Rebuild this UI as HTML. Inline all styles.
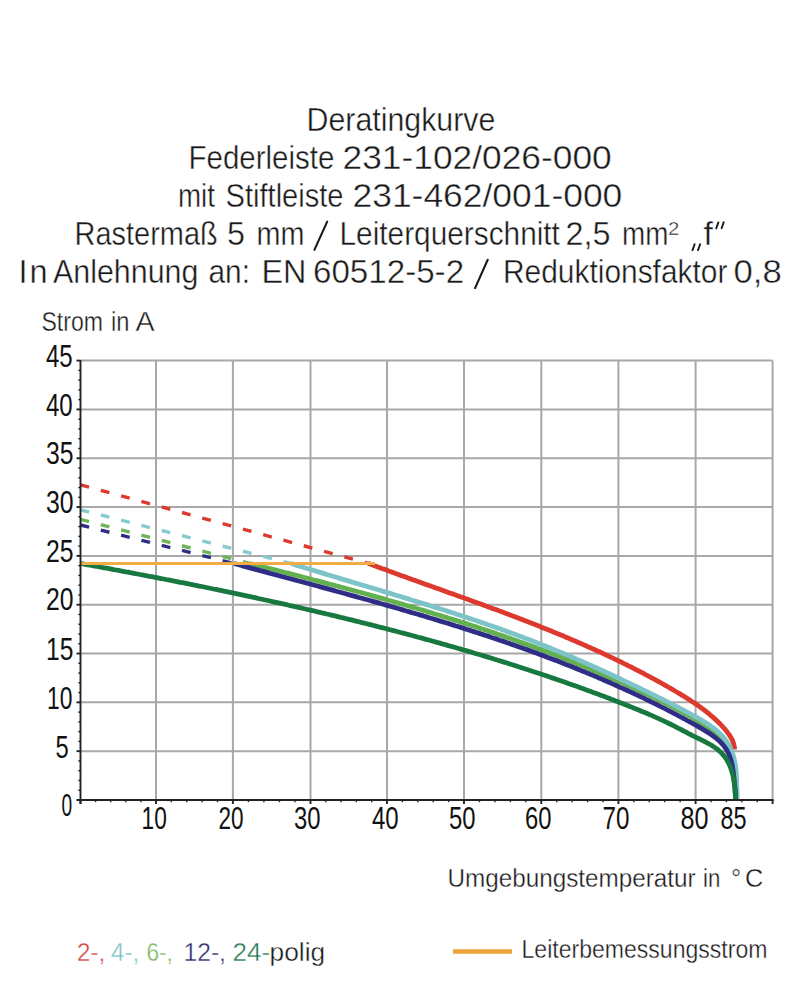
<!DOCTYPE html><html><head><meta charset="utf-8"><style>html,body{margin:0;padding:0;background:#fff;overflow:hidden;}svg{display:block;}</style></head><body><svg width="801" height="1000" viewBox="0 0 801 1000">
<rect width="801" height="1000" fill="#fff"/>
<g stroke="#a8a8a8" stroke-width="2"><line x1="80.5" y1="751.18" x2="772.6" y2="751.18"/><line x1="80.5" y1="702.36" x2="772.6" y2="702.36"/><line x1="80.5" y1="653.53" x2="772.6" y2="653.53"/><line x1="80.5" y1="604.71" x2="772.6" y2="604.71"/><line x1="80.5" y1="555.89" x2="772.6" y2="555.89"/><line x1="80.5" y1="507.07" x2="772.6" y2="507.07"/><line x1="80.5" y1="458.24" x2="772.6" y2="458.24"/><line x1="80.5" y1="409.42" x2="772.6" y2="409.42"/><line x1="80.5" y1="360.60" x2="772.6" y2="360.60"/><line x1="156.0" y1="360.6" x2="156.0" y2="800"/><line x1="232.9" y1="360.6" x2="232.9" y2="800"/><line x1="310.5" y1="360.6" x2="310.5" y2="800"/><line x1="387.0" y1="360.6" x2="387.0" y2="800"/><line x1="464.0" y1="360.6" x2="464.0" y2="800"/><line x1="541.3" y1="360.6" x2="541.3" y2="800"/><line x1="618.4" y1="360.6" x2="618.4" y2="800"/><line x1="695.6" y1="360.6" x2="695.6" y2="800"/><line x1="772.6" y1="360.6" x2="772.6" y2="800"/></g>
<line x1="80.5" y1="484.8" x2="368" y2="563.3" stroke="#dc3a2e" stroke-width="3.4" stroke-dasharray="8.91 12.13"/>
<line x1="80.5" y1="519.3" x2="250" y2="563.5" stroke="#6db558" stroke-width="3.4" stroke-dasharray="8.89 12.09"/>
<line x1="80.5" y1="509.8" x2="291" y2="563.5" stroke="#88cbcf" stroke-width="3.4" stroke-dasharray="8.88 12.07"/>
<line x1="80.5" y1="525.0" x2="234" y2="563.5" stroke="#2f2d86" stroke-width="3.4" stroke-dasharray="8.87 12.06"/>
<path d="M368.0,563.3 L369.3,563.8 L370.6,564.3 L371.9,564.8 L373.3,565.3 L374.6,565.8 L375.9,566.2 L377.2,566.7 L378.5,567.2 L379.8,567.7 L381.1,568.2 L382.5,568.7 L383.8,569.1 L385.1,569.6 L386.4,570.1 L387.7,570.6 L389.0,571.1 L390.4,571.6 L391.7,572.0 L393.0,572.5 L394.3,573.0 L395.6,573.5 L397.0,573.9 L398.3,574.4 L399.6,574.9 L400.9,575.4 L402.2,575.9 L403.5,576.3 L404.9,576.8 L406.2,577.3 L407.5,577.8 L408.8,578.2 L410.1,578.7 L411.5,579.2 L412.8,579.7 L414.1,580.1 L415.4,580.6 L416.7,581.1 L418.1,581.5 L419.4,582.0 L420.7,582.5 L422.0,583.0 L423.3,583.4 L424.7,583.9 L426.0,584.4 L427.3,584.9 L428.6,585.3 L429.9,585.8 L431.3,586.3 L432.6,586.7 L433.9,587.2 L435.2,587.7 L436.5,588.2 L437.9,588.6 L439.2,589.1 L440.5,589.6 L441.8,590.0 L443.1,590.5 L444.5,591.0 L445.8,591.5 L447.1,591.9 L448.4,592.4 L449.7,592.9 L451.1,593.4 L452.4,593.8 L453.7,594.3 L455.0,594.8 L456.3,595.2 L457.6,595.7 L459.0,596.2 L460.3,596.7 L461.6,597.1 L462.9,597.6 L464.2,598.1 L465.6,598.6 L466.9,599.0 L468.2,599.5 L469.5,600.0 L470.8,600.5 L472.1,601.0 L473.5,601.4 L474.8,601.9 L476.1,602.4 L477.4,602.9 L478.7,603.3 L480.0,603.8 L481.4,604.3 L482.7,604.8 L484.0,605.3 L485.3,605.8 L486.6,606.2 L487.9,606.7 L489.2,607.2 L490.6,607.7 L491.9,608.2 L493.2,608.7 L494.5,609.1 L495.8,609.6 L497.1,610.1 L498.4,610.6 L499.7,611.1 L501.1,611.6 L502.4,612.1 L503.7,612.6 L505.0,613.1 L506.3,613.5 L507.6,614.0 L508.9,614.5 L510.2,615.0 L511.5,615.5 L512.9,616.0 L514.2,616.5 L515.5,617.0 L516.8,617.5 L518.1,618.0 L519.4,618.5 L520.7,619.0 L522.0,619.5 L523.3,620.0 L524.6,620.5 L525.9,621.0 L527.2,621.5 L528.5,622.0 L529.8,622.5 L531.1,623.1 L532.4,623.6 L533.7,624.1 L535.0,624.6 L536.3,625.1 L537.6,625.6 L538.9,626.1 L540.2,626.6 L541.5,627.2 L542.8,627.7 L544.1,628.2 L545.4,628.7 L546.7,629.2 L548.0,629.8 L549.3,630.3 L550.6,630.8 L551.9,631.3 L553.2,631.9 L554.5,632.4 L555.8,632.9 L557.1,633.5 L558.4,634.0 L559.7,634.5 L561.0,635.1 L562.3,635.6 L563.6,636.1 L564.8,636.7 L566.1,637.2 L567.4,637.8 L568.7,638.3 L570.0,638.9 L571.3,639.4 L572.6,640.0 L573.9,640.5 L575.1,641.1 L576.4,641.6 L577.7,642.2 L579.0,642.7 L580.3,643.3 L581.6,643.8 L582.8,644.4 L584.1,645.0 L585.4,645.5 L586.7,646.1 L588.0,646.7 L589.2,647.2 L590.5,647.8 L591.8,648.4 L593.1,648.9 L594.3,649.5 L595.6,650.1 L596.9,650.7 L598.2,651.3 L599.4,651.8 L600.7,652.4 L602.0,653.0 L603.3,653.6 L604.5,654.2 L605.8,654.8 L607.1,655.4 L608.3,656.0 L609.6,656.6 L610.9,657.2 L612.1,657.8 L613.4,658.4 L614.6,659.0 L615.9,659.6 L617.2,660.2 L618.4,660.8 L619.7,661.4 L621.0,662.0 L622.2,662.6 L623.5,663.3 L624.7,663.9 L626.0,664.5 L627.2,665.1 L628.5,665.8 L629.7,666.4 L631.0,667.0 L632.2,667.6 L633.5,668.3 L634.7,668.9 L636.0,669.6 L637.2,670.2 L638.5,670.8 L639.7,671.5 L641.0,672.1 L642.2,672.8 L643.5,673.4 L644.7,674.1 L646.0,674.8 L647.2,675.4 L648.4,676.1 L649.7,676.7 L650.9,677.4 L652.2,678.1 L653.4,678.7 L654.6,679.4 L655.9,680.1 L657.1,680.8 L658.3,681.5 L659.6,682.1 L660.8,682.8 L662.0,683.5 L663.2,684.2 L664.5,684.9 L665.7,685.6 L666.9,686.3 L668.1,687.0 L669.4,687.7 L670.6,688.4 L671.8,689.1 L673.0,689.8 L674.2,690.5 L675.5,691.3 L676.7,692.0 L677.9,692.7 L679.1,693.4 L680.3,694.1 L681.5,694.9 L682.7,695.6 L683.9,696.3 L685.1,697.1 L686.3,697.8 L687.5,698.6 L688.7,699.3 L689.9,700.1 L691.1,700.9 L692.3,701.7 L693.5,702.4 L694.6,703.2 L695.8,704.0 L697.0,704.8 L698.1,705.6 L699.3,706.4 L700.4,707.2 L701.5,708.1 L702.7,708.9 L703.8,709.7 L704.9,710.6 L706.0,711.4 L707.1,712.3 L708.2,713.2 L709.3,714.1 L710.3,715.0 L711.4,715.9 L712.5,716.8 L713.5,717.7 L714.5,718.6 L715.6,719.6 L716.6,720.5 L717.6,721.5 L718.6,722.5 L719.6,723.4 L720.5,724.4 L721.5,725.4 L722.4,726.5 L723.4,727.5 L724.3,728.5 L725.2,729.6 L726.1,730.7 L727.0,731.8 L727.8,732.9 L728.7,734.0 L729.4,735.1 L730.2,736.3 L730.9,737.5 L731.6,738.7 L732.2,739.9 L732.7,741.2 L733.2,742.5 L733.6,743.8 L734.0,745.2 L734.3,746.6 L734.5,748.0 L734.6,749.5" fill="none" stroke="#dc3a2e" stroke-width="4.8" stroke-linejoin="round"/>
<path d="M250.0,563.5 L251.9,564.0 L253.7,564.4 L255.6,564.9 L257.4,565.4 L259.3,565.8 L261.1,566.3 L263.0,566.8 L264.8,567.3 L266.7,567.7 L268.5,568.2 L270.4,568.7 L272.2,569.2 L274.1,569.6 L275.9,570.1 L277.8,570.6 L279.6,571.0 L281.5,571.5 L283.3,572.0 L285.2,572.5 L287.0,572.9 L288.9,573.4 L290.7,573.9 L292.6,574.4 L294.4,574.9 L296.3,575.3 L298.1,575.8 L300.0,576.3 L301.8,576.8 L303.7,577.3 L305.5,577.7 L307.4,578.2 L309.2,578.7 L311.1,579.2 L312.9,579.7 L314.8,580.2 L316.6,580.6 L318.5,581.1 L320.3,581.6 L322.2,582.1 L324.0,582.6 L325.9,583.1 L327.7,583.6 L329.5,584.1 L331.4,584.5 L333.2,585.0 L335.1,585.5 L336.9,586.0 L338.8,586.5 L340.6,587.0 L342.5,587.5 L344.3,588.0 L346.1,588.5 L348.0,589.0 L349.8,589.5 L351.7,590.0 L353.5,590.5 L355.3,591.0 L357.2,591.5 L359.0,592.0 L360.9,592.5 L362.7,593.0 L364.5,593.5 L366.4,594.0 L368.2,594.5 L370.1,595.0 L371.9,595.6 L373.7,596.1 L375.6,596.6 L377.4,597.1 L379.2,597.6 L381.1,598.1 L382.9,598.6 L384.8,599.2 L386.6,599.7 L388.4,600.2 L390.3,600.7 L392.1,601.3 L393.9,601.8 L395.8,602.3 L397.6,602.8 L399.4,603.4 L401.3,603.9 L403.1,604.4 L404.9,605.0 L406.7,605.5 L408.6,606.0 L410.4,606.6 L412.2,607.1 L414.1,607.6 L415.9,608.2 L417.7,608.7 L419.6,609.3 L421.4,609.8 L423.2,610.4 L425.0,610.9 L426.9,611.5 L428.7,612.0 L430.5,612.6 L432.3,613.1 L434.2,613.7 L436.0,614.2 L437.8,614.8 L439.6,615.3 L441.5,615.9 L443.3,616.5 L445.1,617.0 L446.9,617.6 L448.7,618.2 L450.6,618.7 L452.4,619.3 L454.2,619.9 L456.0,620.4 L457.8,621.0 L459.7,621.6 L461.5,622.2 L463.3,622.8 L465.1,623.3 L466.9,623.9 L468.7,624.5 L470.5,625.1 L472.4,625.7 L474.2,626.3 L476.0,626.9 L477.8,627.5 L479.6,628.1 L481.4,628.7 L483.2,629.3 L485.0,629.9 L486.9,630.5 L488.7,631.1 L490.5,631.7 L492.3,632.3 L494.1,632.9 L495.9,633.5 L497.7,634.2 L499.5,634.8 L501.3,635.4 L503.1,636.0 L504.9,636.6 L506.7,637.3 L508.5,637.9 L510.3,638.5 L512.1,639.2 L513.9,639.8 L515.7,640.4 L517.5,641.1 L519.4,641.7 L521.1,642.4 L522.9,643.0 L524.7,643.7 L526.5,644.3 L528.3,645.0 L530.1,645.6 L531.9,646.3 L533.7,646.9 L535.5,647.6 L537.3,648.3 L539.1,648.9 L540.9,649.6 L542.7,650.3 L544.5,650.9 L546.3,651.6 L548.1,652.3 L549.9,653.0 L551.7,653.7 L553.4,654.3 L555.2,655.0 L557.0,655.7 L558.8,656.4 L560.6,657.1 L562.4,657.8 L564.2,658.5 L565.9,659.2 L567.7,659.9 L569.5,660.6 L571.3,661.3 L573.1,662.0 L574.8,662.7 L576.6,663.5 L578.4,664.2 L580.2,664.9 L581.9,665.6 L583.7,666.3 L585.5,667.1 L587.2,667.8 L589.0,668.5 L590.8,669.3 L592.5,670.0 L594.3,670.7 L596.1,671.5 L597.8,672.2 L599.6,673.0 L601.3,673.7 L603.1,674.5 L604.8,675.2 L606.6,676.0 L608.3,676.8 L610.1,677.5 L611.8,678.3 L613.6,679.0 L615.3,679.8 L617.1,680.6 L618.8,681.4 L620.6,682.1 L622.3,682.9 L624.0,683.7 L625.8,684.5 L627.5,685.3 L629.2,686.1 L631.0,686.9 L632.7,687.7 L634.4,688.4 L636.1,689.2 L637.8,690.0 L639.6,690.9 L641.3,691.7 L643.0,692.5 L644.7,693.3 L646.4,694.1 L648.1,694.9 L649.8,695.7 L651.5,696.6 L653.2,697.4 L654.9,698.2 L656.6,699.0 L658.3,699.9 L660.0,700.7 L661.7,701.5 L663.4,702.4 L665.1,703.2 L666.7,704.1 L668.4,704.9 L670.1,705.8 L671.8,706.6 L673.4,707.5 L675.1,708.4 L676.8,709.3 L678.5,710.1 L680.1,711.0 L681.8,711.9 L683.5,712.8 L685.2,713.8 L686.8,714.7 L688.5,715.6 L690.2,716.5 L691.9,717.5 L693.5,718.4 L695.2,719.4 L696.9,720.4 L698.6,721.4 L700.2,722.4 L701.9,723.4 L703.5,724.4 L705.2,725.5 L706.8,726.6 L708.4,727.7 L710.0,728.8 L711.6,729.9 L713.1,731.1 L714.6,732.3 L716.1,733.5 L717.5,734.8 L718.9,736.1 L720.3,737.4 L721.6,738.8 L722.9,740.2 L724.1,741.6 L725.3,743.1 L726.4,744.7 L727.4,746.2 L728.4,747.8 L729.4,749.5 L730.3,751.1 L731.1,752.9 L731.8,754.6 L732.5,756.4 L733.0,758.2 L733.6,760.0 L734.0,761.8 L734.4,763.7 L734.7,765.6 L735.0,767.5 L735.3,769.4 L735.5,771.3 L735.6,773.3 L735.8,775.2 L735.9,777.1 L736.1,779.1 L736.2,781.0 L736.3,782.9 L736.4,784.8 L736.5,786.7 L736.6,788.6 L736.7,790.5 L736.8,792.4 L736.8,794.3 L736.8,796.2 L736.8,798.1 L736.8,800.0" fill="none" stroke="#62b04e" stroke-width="4.8" stroke-linejoin="round"/>
<path d="M291.0,563.5 L292.7,564.0 L294.4,564.6 L296.1,565.1 L297.8,565.6 L299.5,566.1 L301.2,566.7 L303.0,567.2 L304.7,567.7 L306.4,568.2 L308.1,568.8 L309.8,569.3 L311.5,569.8 L313.2,570.3 L314.9,570.8 L316.6,571.4 L318.3,571.9 L320.0,572.4 L321.8,572.9 L323.5,573.4 L325.2,573.9 L326.9,574.5 L328.6,575.0 L330.3,575.5 L332.0,576.0 L333.7,576.5 L335.4,577.0 L337.2,577.5 L338.9,578.1 L340.6,578.6 L342.3,579.1 L344.0,579.6 L345.7,580.1 L347.4,580.6 L349.1,581.1 L350.8,581.6 L352.6,582.2 L354.3,582.7 L356.0,583.2 L357.7,583.7 L359.4,584.2 L361.1,584.7 L362.8,585.2 L364.5,585.7 L366.2,586.2 L368.0,586.8 L369.7,587.3 L371.4,587.8 L373.1,588.3 L374.8,588.8 L376.5,589.3 L378.2,589.8 L379.9,590.3 L381.6,590.8 L383.3,591.4 L385.1,591.9 L386.8,592.4 L388.5,592.9 L390.2,593.4 L391.9,593.9 L393.6,594.5 L395.3,595.0 L397.0,595.5 L398.7,596.0 L400.4,596.5 L402.1,597.0 L403.9,597.6 L405.6,598.1 L407.3,598.6 L409.0,599.1 L410.7,599.7 L412.4,600.2 L414.1,600.7 L415.8,601.2 L417.5,601.8 L419.2,602.3 L420.9,602.8 L422.6,603.3 L424.3,603.9 L426.0,604.4 L427.7,604.9 L429.4,605.5 L431.1,606.0 L432.8,606.5 L434.6,607.1 L436.3,607.6 L438.0,608.1 L439.7,608.7 L441.4,609.2 L443.1,609.8 L444.8,610.3 L446.5,610.9 L448.2,611.4 L449.9,611.9 L451.6,612.5 L453.3,613.0 L455.0,613.6 L456.6,614.2 L458.3,614.7 L460.0,615.3 L461.7,615.8 L463.4,616.4 L465.1,616.9 L466.8,617.5 L468.5,618.1 L470.2,618.6 L471.9,619.2 L473.6,619.8 L475.3,620.3 L477.0,620.9 L478.7,621.5 L480.4,622.1 L482.0,622.6 L483.7,623.2 L485.4,623.8 L487.1,624.4 L488.8,625.0 L490.5,625.6 L492.2,626.1 L493.9,626.7 L495.5,627.3 L497.2,627.9 L498.9,628.5 L500.6,629.1 L502.3,629.7 L504.0,630.3 L505.6,630.9 L507.3,631.5 L509.0,632.2 L510.7,632.8 L512.3,633.4 L514.0,634.0 L515.7,634.6 L517.4,635.2 L519.1,635.9 L520.7,636.5 L522.4,637.1 L524.1,637.8 L525.7,638.4 L527.4,639.0 L529.1,639.7 L530.8,640.3 L532.4,641.0 L534.1,641.6 L535.8,642.3 L537.4,642.9 L539.1,643.6 L540.8,644.2 L542.4,644.9 L544.1,645.5 L545.7,646.2 L547.4,646.9 L549.1,647.5 L550.7,648.2 L552.4,648.9 L554.0,649.6 L555.7,650.3 L557.4,650.9 L559.0,651.6 L560.7,652.3 L562.3,653.0 L564.0,653.7 L565.6,654.4 L567.3,655.1 L568.9,655.8 L570.6,656.5 L572.2,657.2 L573.9,657.9 L575.5,658.6 L577.1,659.3 L578.8,660.1 L580.4,660.8 L582.1,661.5 L583.7,662.2 L585.4,662.9 L587.0,663.7 L588.6,664.4 L590.3,665.1 L591.9,665.8 L593.5,666.6 L595.2,667.3 L596.8,668.0 L598.4,668.8 L600.0,669.5 L601.7,670.3 L603.3,671.0 L604.9,671.8 L606.5,672.5 L608.2,673.3 L609.8,674.0 L611.4,674.8 L613.0,675.5 L614.6,676.3 L616.3,677.0 L617.9,677.8 L619.5,678.5 L621.1,679.3 L622.7,680.1 L624.3,680.8 L625.9,681.6 L627.5,682.3 L629.1,683.1 L630.7,683.9 L632.3,684.7 L633.9,685.4 L635.5,686.2 L637.1,687.0 L638.7,687.7 L640.3,688.5 L641.9,689.3 L643.5,690.1 L645.1,690.8 L646.7,691.6 L648.3,692.4 L649.9,693.2 L651.5,694.0 L653.0,694.8 L654.6,695.5 L656.2,696.3 L657.8,697.1 L659.4,697.9 L660.9,698.7 L662.5,699.5 L664.1,700.3 L665.7,701.0 L667.2,701.8 L668.8,702.6 L670.4,703.4 L671.9,704.2 L673.5,705.0 L675.1,705.8 L676.6,706.7 L678.2,707.5 L679.8,708.3 L681.4,709.1 L682.9,709.9 L684.5,710.8 L686.1,711.6 L687.7,712.5 L689.3,713.3 L690.8,714.2 L692.4,715.1 L694.0,715.9 L695.6,716.8 L697.2,717.7 L698.8,718.6 L700.4,719.5 L702.0,720.4 L703.5,721.4 L705.1,722.3 L706.7,723.3 L708.2,724.3 L709.7,725.3 L711.2,726.4 L712.7,727.4 L714.1,728.5 L715.5,729.6 L716.9,730.8 L718.2,732.0 L719.6,733.2 L720.8,734.4 L722.0,735.7 L723.2,737.0 L724.3,738.4 L725.4,739.8 L726.4,741.2 L727.4,742.7 L728.3,744.2 L729.2,745.7 L730.0,747.3 L730.8,748.9 L731.5,750.5 L732.1,752.1 L732.7,753.8 L733.2,755.5 L733.7,757.2 L734.2,758.9 L734.5,760.7 L734.9,762.4 L735.2,764.2 L735.5,766.0 L735.7,767.8 L735.9,769.6 L736.0,771.4 L736.2,773.2 L736.3,775.0 L736.4,776.8 L736.5,778.6 L736.6,780.4 L736.6,782.2 L736.7,784.0 L736.7,785.8 L736.8,787.6 L736.8,789.4 L736.8,791.2 L736.9,793.0 L736.9,794.7 L736.9,796.5 L737.0,798.2 L737.0,800.0" fill="none" stroke="#7cc4c7" stroke-width="4.8" stroke-linejoin="round"/>
<path d="M234.0,563.5 L235.9,564.0 L237.7,564.5 L239.6,565.0 L241.5,565.5 L243.4,566.1 L245.2,566.6 L247.1,567.1 L249.0,567.6 L250.9,568.1 L252.7,568.6 L254.6,569.1 L256.5,569.6 L258.4,570.1 L260.2,570.6 L262.1,571.1 L264.0,571.6 L265.9,572.1 L267.8,572.6 L269.6,573.2 L271.5,573.7 L273.4,574.2 L275.3,574.7 L277.1,575.2 L279.0,575.7 L280.9,576.2 L282.8,576.7 L284.7,577.2 L286.5,577.7 L288.4,578.2 L290.3,578.7 L292.2,579.2 L294.1,579.7 L295.9,580.2 L297.8,580.8 L299.7,581.3 L301.6,581.8 L303.5,582.3 L305.3,582.8 L307.2,583.3 L309.1,583.8 L311.0,584.3 L312.9,584.8 L314.7,585.3 L316.6,585.8 L318.5,586.3 L320.4,586.9 L322.3,587.4 L324.1,587.9 L326.0,588.4 L327.9,588.9 L329.8,589.4 L331.7,589.9 L333.5,590.4 L335.4,591.0 L337.3,591.5 L339.2,592.0 L341.1,592.5 L342.9,593.0 L344.8,593.5 L346.7,594.0 L348.6,594.6 L350.5,595.1 L352.3,595.6 L354.2,596.1 L356.1,596.6 L358.0,597.2 L359.8,597.7 L361.7,598.2 L363.6,598.7 L365.5,599.3 L367.4,599.8 L369.2,600.3 L371.1,600.8 L373.0,601.4 L374.9,601.9 L376.7,602.4 L378.6,602.9 L380.5,603.5 L382.4,604.0 L384.2,604.5 L386.1,605.1 L388.0,605.6 L389.9,606.1 L391.7,606.7 L393.6,607.2 L395.5,607.8 L397.4,608.3 L399.2,608.8 L401.1,609.4 L403.0,609.9 L404.9,610.5 L406.7,611.0 L408.6,611.6 L410.5,612.1 L412.3,612.7 L414.2,613.2 L416.1,613.8 L417.9,614.3 L419.8,614.9 L421.7,615.4 L423.6,616.0 L425.4,616.5 L427.3,617.1 L429.2,617.7 L431.0,618.2 L432.9,618.8 L434.7,619.4 L436.6,619.9 L438.5,620.5 L440.3,621.1 L442.2,621.6 L444.1,622.2 L445.9,622.8 L447.8,623.3 L449.6,623.9 L451.5,624.5 L453.4,625.1 L455.2,625.7 L457.1,626.2 L458.9,626.8 L460.8,627.4 L462.7,628.0 L464.5,628.6 L466.4,629.2 L468.2,629.8 L470.1,630.4 L471.9,631.0 L473.8,631.6 L475.6,632.2 L477.5,632.8 L479.3,633.4 L481.2,634.0 L483.0,634.6 L484.9,635.2 L486.7,635.8 L488.6,636.4 L490.4,637.0 L492.3,637.7 L494.1,638.3 L496.0,638.9 L497.8,639.5 L499.6,640.2 L501.5,640.8 L503.3,641.4 L505.2,642.0 L507.0,642.7 L508.8,643.3 L510.7,644.0 L512.5,644.6 L514.4,645.2 L516.2,645.9 L518.0,646.5 L519.9,647.2 L521.7,647.8 L523.5,648.5 L525.4,649.1 L527.2,649.8 L529.0,650.4 L530.8,651.1 L532.7,651.8 L534.5,652.4 L536.3,653.1 L538.1,653.8 L540.0,654.5 L541.8,655.1 L543.6,655.8 L545.4,656.5 L547.3,657.2 L549.1,657.9 L550.9,658.6 L552.7,659.2 L554.5,659.9 L556.3,660.6 L558.1,661.3 L560.0,662.0 L561.8,662.7 L563.6,663.4 L565.4,664.2 L567.2,664.9 L569.0,665.6 L570.8,666.3 L572.6,667.0 L574.4,667.7 L576.2,668.5 L578.0,669.2 L579.8,669.9 L581.6,670.7 L583.4,671.4 L585.2,672.1 L587.0,672.9 L588.8,673.6 L590.6,674.4 L592.4,675.1 L594.2,675.9 L596.0,676.6 L597.8,677.4 L599.6,678.2 L601.3,678.9 L603.1,679.7 L604.9,680.5 L606.7,681.2 L608.5,682.0 L610.3,682.8 L612.0,683.6 L613.8,684.4 L615.6,685.2 L617.4,686.0 L619.1,686.8 L620.9,687.6 L622.7,688.4 L624.5,689.2 L626.2,690.0 L628.0,690.8 L629.8,691.6 L631.5,692.4 L633.3,693.2 L635.0,694.1 L636.8,694.9 L638.6,695.7 L640.3,696.6 L642.1,697.4 L643.8,698.2 L645.6,699.1 L647.3,699.9 L649.1,700.8 L650.8,701.7 L652.6,702.5 L654.3,703.4 L656.1,704.2 L657.8,705.1 L659.6,706.0 L661.3,706.9 L663.0,707.7 L664.8,708.6 L666.5,709.5 L668.2,710.4 L670.0,711.3 L671.7,712.2 L673.4,713.1 L675.2,714.0 L676.9,714.9 L678.6,715.8 L680.3,716.8 L682.1,717.7 L683.8,718.6 L685.5,719.5 L687.2,720.5 L688.9,721.4 L690.6,722.3 L692.3,723.3 L694.1,724.2 L695.8,725.2 L697.5,726.1 L699.2,727.1 L700.9,728.1 L702.6,729.1 L704.2,730.1 L705.9,731.1 L707.5,732.1 L709.2,733.2 L710.8,734.3 L712.4,735.4 L713.9,736.6 L715.5,737.7 L717.0,739.0 L718.4,740.2 L719.9,741.5 L721.2,742.9 L722.5,744.3 L723.8,745.8 L724.9,747.3 L726.0,748.9 L726.9,750.5 L727.8,752.2 L728.7,753.9 L729.4,755.7 L730.1,757.5 L730.7,759.3 L731.2,761.2 L731.7,763.1 L732.1,765.0 L732.5,767.0 L732.8,768.9 L733.1,770.9 L733.4,772.8 L733.6,774.8 L733.8,776.8 L734.0,778.7 L734.2,780.7 L734.4,782.6 L734.6,784.6 L734.8,786.5 L735.0,788.4 L735.1,790.4 L735.3,792.3 L735.4,794.2 L735.6,796.1 L735.7,798.1 L735.8,800.0" fill="none" stroke="#2f2d86" stroke-width="4.8" stroke-linejoin="round"/>
<path d="M80.5,563.5 L82.9,563.9 L85.3,564.4 L87.6,564.8 L90.0,565.2 L92.4,565.6 L94.8,566.1 L97.2,566.5 L99.5,566.9 L101.9,567.4 L104.3,567.8 L106.7,568.2 L109.1,568.7 L111.4,569.1 L113.8,569.6 L116.2,570.0 L118.6,570.4 L120.9,570.9 L123.3,571.3 L125.7,571.8 L128.1,572.2 L130.5,572.7 L132.8,573.1 L135.2,573.6 L137.6,574.0 L140.0,574.5 L142.3,574.9 L144.7,575.4 L147.1,575.8 L149.5,576.3 L151.8,576.7 L154.2,577.2 L156.6,577.6 L158.9,578.1 L161.3,578.6 L163.7,579.0 L166.1,579.5 L168.4,579.9 L170.8,580.4 L173.2,580.9 L175.6,581.3 L177.9,581.8 L180.3,582.3 L182.7,582.7 L185.0,583.2 L187.4,583.7 L189.8,584.2 L192.1,584.6 L194.5,585.1 L196.9,585.6 L199.3,586.1 L201.6,586.5 L204.0,587.0 L206.4,587.5 L208.7,588.0 L211.1,588.5 L213.5,589.0 L215.8,589.4 L218.2,589.9 L220.6,590.4 L222.9,590.9 L225.3,591.4 L227.7,591.9 L230.0,592.4 L232.4,592.9 L234.8,593.4 L237.1,593.9 L239.5,594.4 L241.8,594.9 L244.2,595.4 L246.6,595.9 L248.9,596.4 L251.3,596.9 L253.7,597.4 L256.0,597.9 L258.4,598.5 L260.7,599.0 L263.1,599.5 L265.5,600.0 L267.8,600.5 L270.2,601.0 L272.5,601.6 L274.9,602.1 L277.3,602.6 L279.6,603.1 L282.0,603.7 L284.3,604.2 L286.7,604.7 L289.0,605.3 L291.4,605.8 L293.8,606.3 L296.1,606.9 L298.5,607.4 L300.8,607.9 L303.2,608.5 L305.5,609.0 L307.9,609.6 L310.2,610.1 L312.6,610.7 L314.9,611.2 L317.3,611.8 L319.7,612.3 L322.0,612.9 L324.4,613.4 L326.7,614.0 L329.1,614.5 L331.4,615.1 L333.8,615.7 L336.1,616.2 L338.5,616.8 L340.8,617.4 L343.2,617.9 L345.5,618.5 L347.8,619.1 L350.2,619.7 L352.5,620.2 L354.9,620.8 L357.2,621.4 L359.6,622.0 L361.9,622.6 L364.3,623.1 L366.6,623.7 L369.0,624.3 L371.3,624.9 L373.6,625.5 L376.0,626.1 L378.3,626.7 L380.7,627.3 L383.0,627.9 L385.4,628.5 L387.7,629.1 L390.0,629.7 L392.4,630.3 L394.7,630.9 L397.0,631.5 L399.4,632.2 L401.7,632.8 L404.1,633.4 L406.4,634.0 L408.7,634.6 L411.1,635.3 L413.4,635.9 L415.7,636.5 L418.1,637.2 L420.4,637.8 L422.7,638.4 L425.1,639.1 L427.4,639.7 L429.7,640.3 L432.1,641.0 L434.4,641.6 L436.7,642.3 L439.1,642.9 L441.4,643.6 L443.7,644.2 L446.0,644.9 L448.4,645.6 L450.7,646.2 L453.0,646.9 L455.3,647.5 L457.7,648.2 L460.0,648.9 L462.3,649.6 L464.6,650.2 L467.0,650.9 L469.3,651.6 L471.6,652.3 L473.9,653.0 L476.2,653.7 L478.5,654.3 L480.9,655.0 L483.2,655.7 L485.5,656.4 L487.8,657.1 L490.1,657.8 L492.4,658.5 L494.7,659.3 L497.1,660.0 L499.4,660.7 L501.7,661.4 L504.0,662.1 L506.3,662.8 L508.6,663.6 L510.9,664.3 L513.2,665.0 L515.5,665.7 L517.8,666.5 L520.1,667.2 L522.4,668.0 L524.7,668.7 L527.0,669.5 L529.3,670.2 L531.6,671.0 L533.9,671.7 L536.2,672.5 L538.5,673.2 L540.8,674.0 L543.1,674.8 L545.4,675.5 L547.6,676.3 L549.9,677.1 L552.2,677.9 L554.5,678.6 L556.8,679.4 L559.1,680.2 L561.4,681.0 L563.6,681.8 L565.9,682.6 L568.2,683.4 L570.5,684.2 L572.7,685.0 L575.0,685.8 L577.3,686.6 L579.6,687.4 L581.8,688.2 L584.1,689.1 L586.4,689.9 L588.7,690.7 L590.9,691.6 L593.2,692.4 L595.4,693.2 L597.7,694.1 L600.0,694.9 L602.2,695.8 L604.5,696.6 L606.8,697.5 L609.0,698.3 L611.3,699.2 L613.5,700.0 L615.8,700.9 L618.0,701.8 L620.3,702.7 L622.5,703.5 L624.8,704.4 L627.0,705.3 L629.3,706.2 L631.5,707.1 L633.7,708.0 L636.0,708.9 L638.2,709.8 L640.4,710.7 L642.6,711.7 L644.9,712.6 L647.1,713.5 L649.3,714.5 L651.5,715.4 L653.7,716.4 L655.9,717.4 L658.1,718.4 L660.3,719.4 L662.5,720.4 L664.6,721.4 L666.8,722.4 L669.0,723.5 L671.1,724.5 L673.3,725.6 L675.4,726.7 L677.5,727.8 L679.7,728.9 L681.8,730.0 L683.9,731.1 L686.1,732.2 L688.2,733.4 L690.4,734.5 L692.5,735.6 L694.7,736.7 L696.9,737.8 L699.1,738.8 L701.4,739.9 L703.6,741.0 L705.8,742.1 L708.0,743.3 L710.1,744.5 L712.2,745.7 L714.2,747.1 L716.2,748.4 L718.1,749.9 L719.9,751.5 L721.6,753.1 L723.1,754.8 L724.6,756.7 L726.0,758.6 L727.2,760.6 L728.3,762.7 L729.4,764.8 L730.3,767.0 L731.1,769.3 L731.9,771.6 L732.5,774.0 L733.1,776.3 L733.6,778.8 L734.0,781.2 L734.3,783.6 L734.6,786.1 L734.9,788.5 L735.1,791.0 L735.2,793.4 L735.4,795.8 L735.6,798.2 L735.8,800.5" fill="none" stroke="#17793f" stroke-width="4.8" stroke-linejoin="round"/>
<line x1="80.5" y1="563.4" x2="375" y2="563.4" stroke="#f2ac45" stroke-width="3.0"/>
<g stroke="#222" stroke-width="1.9"><line x1="80.5" y1="360" x2="80.5" y2="804"/><line x1="77" y1="800" x2="773.5" y2="800"/><line x1="76.5" y1="800.00" x2="80.5" y2="800.00"/><line x1="78.3" y1="790.24" x2="80.5" y2="790.24" stroke-width="1.4"/><line x1="78.3" y1="780.47" x2="80.5" y2="780.47" stroke-width="1.4"/><line x1="78.3" y1="770.71" x2="80.5" y2="770.71" stroke-width="1.4"/><line x1="78.3" y1="760.94" x2="80.5" y2="760.94" stroke-width="1.4"/><line x1="76.5" y1="751.18" x2="80.5" y2="751.18"/><line x1="78.3" y1="741.41" x2="80.5" y2="741.41" stroke-width="1.4"/><line x1="78.3" y1="731.65" x2="80.5" y2="731.65" stroke-width="1.4"/><line x1="78.3" y1="721.88" x2="80.5" y2="721.88" stroke-width="1.4"/><line x1="78.3" y1="712.12" x2="80.5" y2="712.12" stroke-width="1.4"/><line x1="76.5" y1="702.36" x2="80.5" y2="702.36"/><line x1="78.3" y1="692.59" x2="80.5" y2="692.59" stroke-width="1.4"/><line x1="78.3" y1="682.83" x2="80.5" y2="682.83" stroke-width="1.4"/><line x1="78.3" y1="673.06" x2="80.5" y2="673.06" stroke-width="1.4"/><line x1="78.3" y1="663.30" x2="80.5" y2="663.30" stroke-width="1.4"/><line x1="76.5" y1="653.53" x2="80.5" y2="653.53"/><line x1="78.3" y1="643.77" x2="80.5" y2="643.77" stroke-width="1.4"/><line x1="78.3" y1="634.00" x2="80.5" y2="634.00" stroke-width="1.4"/><line x1="78.3" y1="624.24" x2="80.5" y2="624.24" stroke-width="1.4"/><line x1="78.3" y1="614.48" x2="80.5" y2="614.48" stroke-width="1.4"/><line x1="76.5" y1="604.71" x2="80.5" y2="604.71"/><line x1="78.3" y1="594.95" x2="80.5" y2="594.95" stroke-width="1.4"/><line x1="78.3" y1="585.18" x2="80.5" y2="585.18" stroke-width="1.4"/><line x1="78.3" y1="575.42" x2="80.5" y2="575.42" stroke-width="1.4"/><line x1="78.3" y1="565.65" x2="80.5" y2="565.65" stroke-width="1.4"/><line x1="76.5" y1="555.89" x2="80.5" y2="555.89"/><line x1="78.3" y1="546.12" x2="80.5" y2="546.12" stroke-width="1.4"/><line x1="78.3" y1="536.36" x2="80.5" y2="536.36" stroke-width="1.4"/><line x1="78.3" y1="526.60" x2="80.5" y2="526.60" stroke-width="1.4"/><line x1="78.3" y1="516.83" x2="80.5" y2="516.83" stroke-width="1.4"/><line x1="76.5" y1="507.07" x2="80.5" y2="507.07"/><line x1="78.3" y1="497.30" x2="80.5" y2="497.30" stroke-width="1.4"/><line x1="78.3" y1="487.54" x2="80.5" y2="487.54" stroke-width="1.4"/><line x1="78.3" y1="477.77" x2="80.5" y2="477.77" stroke-width="1.4"/><line x1="78.3" y1="468.01" x2="80.5" y2="468.01" stroke-width="1.4"/><line x1="76.5" y1="458.24" x2="80.5" y2="458.24"/><line x1="78.3" y1="448.48" x2="80.5" y2="448.48" stroke-width="1.4"/><line x1="78.3" y1="438.72" x2="80.5" y2="438.72" stroke-width="1.4"/><line x1="78.3" y1="428.95" x2="80.5" y2="428.95" stroke-width="1.4"/><line x1="78.3" y1="419.19" x2="80.5" y2="419.19" stroke-width="1.4"/><line x1="76.5" y1="409.42" x2="80.5" y2="409.42"/><line x1="78.3" y1="399.66" x2="80.5" y2="399.66" stroke-width="1.4"/><line x1="78.3" y1="389.89" x2="80.5" y2="389.89" stroke-width="1.4"/><line x1="78.3" y1="380.13" x2="80.5" y2="380.13" stroke-width="1.4"/><line x1="78.3" y1="370.36" x2="80.5" y2="370.36" stroke-width="1.4"/><line x1="76.5" y1="360.60" x2="80.5" y2="360.60"/><line x1="80.5" y1="800" x2="80.5" y2="804"/><line x1="95.60" y1="800" x2="95.60" y2="802.2" stroke-width="1.4"/><line x1="110.70" y1="800" x2="110.70" y2="802.2" stroke-width="1.4"/><line x1="125.80" y1="800" x2="125.80" y2="802.2" stroke-width="1.4"/><line x1="140.90" y1="800" x2="140.90" y2="802.2" stroke-width="1.4"/><line x1="156.0" y1="800" x2="156.0" y2="804"/><line x1="171.38" y1="800" x2="171.38" y2="802.2" stroke-width="1.4"/><line x1="186.76" y1="800" x2="186.76" y2="802.2" stroke-width="1.4"/><line x1="202.14" y1="800" x2="202.14" y2="802.2" stroke-width="1.4"/><line x1="217.52" y1="800" x2="217.52" y2="802.2" stroke-width="1.4"/><line x1="232.9" y1="800" x2="232.9" y2="804"/><line x1="248.42" y1="800" x2="248.42" y2="802.2" stroke-width="1.4"/><line x1="263.94" y1="800" x2="263.94" y2="802.2" stroke-width="1.4"/><line x1="279.46" y1="800" x2="279.46" y2="802.2" stroke-width="1.4"/><line x1="294.98" y1="800" x2="294.98" y2="802.2" stroke-width="1.4"/><line x1="310.5" y1="800" x2="310.5" y2="804"/><line x1="325.80" y1="800" x2="325.80" y2="802.2" stroke-width="1.4"/><line x1="341.10" y1="800" x2="341.10" y2="802.2" stroke-width="1.4"/><line x1="356.40" y1="800" x2="356.40" y2="802.2" stroke-width="1.4"/><line x1="371.70" y1="800" x2="371.70" y2="802.2" stroke-width="1.4"/><line x1="387.0" y1="800" x2="387.0" y2="804"/><line x1="402.40" y1="800" x2="402.40" y2="802.2" stroke-width="1.4"/><line x1="417.80" y1="800" x2="417.80" y2="802.2" stroke-width="1.4"/><line x1="433.20" y1="800" x2="433.20" y2="802.2" stroke-width="1.4"/><line x1="448.60" y1="800" x2="448.60" y2="802.2" stroke-width="1.4"/><line x1="464.0" y1="800" x2="464.0" y2="804"/><line x1="479.46" y1="800" x2="479.46" y2="802.2" stroke-width="1.4"/><line x1="494.92" y1="800" x2="494.92" y2="802.2" stroke-width="1.4"/><line x1="510.38" y1="800" x2="510.38" y2="802.2" stroke-width="1.4"/><line x1="525.84" y1="800" x2="525.84" y2="802.2" stroke-width="1.4"/><line x1="541.3" y1="800" x2="541.3" y2="804"/><line x1="556.72" y1="800" x2="556.72" y2="802.2" stroke-width="1.4"/><line x1="572.14" y1="800" x2="572.14" y2="802.2" stroke-width="1.4"/><line x1="587.56" y1="800" x2="587.56" y2="802.2" stroke-width="1.4"/><line x1="602.98" y1="800" x2="602.98" y2="802.2" stroke-width="1.4"/><line x1="618.4" y1="800" x2="618.4" y2="804"/><line x1="633.84" y1="800" x2="633.84" y2="802.2" stroke-width="1.4"/><line x1="649.28" y1="800" x2="649.28" y2="802.2" stroke-width="1.4"/><line x1="664.72" y1="800" x2="664.72" y2="802.2" stroke-width="1.4"/><line x1="680.16" y1="800" x2="680.16" y2="802.2" stroke-width="1.4"/><line x1="695.6" y1="800" x2="695.6" y2="804"/><line x1="711.00" y1="800" x2="711.00" y2="802.2" stroke-width="1.4"/><line x1="726.40" y1="800" x2="726.40" y2="802.2" stroke-width="1.4"/><line x1="741.80" y1="800" x2="741.80" y2="802.2" stroke-width="1.4"/><line x1="757.20" y1="800" x2="757.20" y2="802.2" stroke-width="1.4"/><line x1="772.6" y1="800" x2="772.6" y2="804"/></g>
<text id="t1a" x="306.50" y="130.6" font-family='"Liberation Sans", sans-serif' font-size="32.5" fill="#1a1a1a" stroke="#fff" stroke-width="0.4" textLength="188.84" lengthAdjust="spacingAndGlyphs">Deratingkurve</text>
<text id="t2a" x="188.50" y="168.7" font-family='"Liberation Sans", sans-serif' font-size="32.5" fill="#1a1a1a" stroke="#fff" stroke-width="0.4" textLength="145.84" lengthAdjust="spacingAndGlyphs">Federleiste</text>
<text id="t2b" x="342.50" y="168.7" font-family='"Liberation Sans", sans-serif' font-size="32.5" fill="#1a1a1a" stroke="#fff" stroke-width="0.4" textLength="269.21" lengthAdjust="spacingAndGlyphs">231-102/026-000</text>
<text id="t3a" x="178.00" y="206.9" font-family='"Liberation Sans", sans-serif' font-size="32.5" fill="#1a1a1a" stroke="#fff" stroke-width="0.4" textLength="36.99" lengthAdjust="spacingAndGlyphs">mit</text>
<text id="t3b" x="225.50" y="206.9" font-family='"Liberation Sans", sans-serif' font-size="32.5" fill="#1a1a1a" stroke="#fff" stroke-width="0.4" textLength="118.06" lengthAdjust="spacingAndGlyphs">Stiftleiste</text>
<text id="t3c" x="352.50" y="206.9" font-family='"Liberation Sans", sans-serif' font-size="32.5" fill="#1a1a1a" stroke="#fff" stroke-width="0.4" textLength="269.81" lengthAdjust="spacingAndGlyphs">231-462/001-000</text>
<text id="t4a" x="74.50" y="245.2" font-family='"Liberation Sans", sans-serif' font-size="32.5" fill="#1a1a1a" stroke="#fff" stroke-width="0.4" textLength="143.22" lengthAdjust="spacingAndGlyphs">Rastermaß</text>
<text id="t4b" x="227.00" y="245.2" font-family='"Liberation Sans", sans-serif' font-size="32.5" fill="#1a1a1a" stroke="#fff" stroke-width="0.4" textLength="17.95" lengthAdjust="spacingAndGlyphs">5</text>
<text id="t4c" x="256.50" y="245.2" font-family='"Liberation Sans", sans-serif' font-size="32.5" fill="#1a1a1a" stroke="#fff" stroke-width="0.4" textLength="47.89" lengthAdjust="spacingAndGlyphs">mm</text>
<text id="t4e" x="339.50" y="245.2" font-family='"Liberation Sans", sans-serif' font-size="32.5" fill="#1a1a1a" stroke="#fff" stroke-width="0.4" textLength="220.41" lengthAdjust="spacingAndGlyphs">Leiterquerschnitt</text>
<text id="t4f" x="565.50" y="245.2" font-family='"Liberation Sans", sans-serif' font-size="32.5" fill="#1a1a1a" stroke="#fff" stroke-width="0.4" textLength="45.01" lengthAdjust="spacingAndGlyphs">2,5</text>
<text id="t4g" x="622.00" y="245.2" font-family='"Liberation Sans", sans-serif' font-size="32.5" fill="#1a1a1a" stroke="#fff" stroke-width="0.4" textLength="46.37" lengthAdjust="spacingAndGlyphs">mm</text>
<text id="t4h" x="668.00" y="235.1" font-family='"Liberation Sans", sans-serif' font-size="18" fill="#1a1a1a" stroke="#fff" stroke-width="0.4" textLength="11.27" lengthAdjust="spacingAndGlyphs">2</text>
<text id="t4j" x="703.40" y="245.2" font-family='"Liberation Sans", sans-serif' font-size="32.5" fill="#1a1a1a" stroke="#fff" stroke-width="0.4" textLength="9.38" lengthAdjust="spacingAndGlyphs">f</text>
<text id="t5a" x="18.50" y="283.4" font-family='"Liberation Sans", sans-serif' font-size="32.5" fill="#1a1a1a" stroke="#fff" stroke-width="0.4" textLength="29.16" lengthAdjust="spacing">In</text>
<text id="t5b" x="53.00" y="283.4" font-family='"Liberation Sans", sans-serif' font-size="32.5" fill="#1a1a1a" stroke="#fff" stroke-width="0.4" textLength="145.42" lengthAdjust="spacingAndGlyphs">Anlehnung</text>
<text id="t5c" x="208.50" y="283.4" font-family='"Liberation Sans", sans-serif' font-size="32.5" fill="#1a1a1a" stroke="#fff" stroke-width="0.4" textLength="41.45" lengthAdjust="spacingAndGlyphs">an:</text>
<text id="t5d" x="261.50" y="283.4" font-family='"Liberation Sans", sans-serif' font-size="32.5" fill="#1a1a1a" stroke="#fff" stroke-width="0.4" textLength="44.94" lengthAdjust="spacingAndGlyphs">EN</text>
<text id="t5e" x="313.00" y="283.4" font-family='"Liberation Sans", sans-serif' font-size="32.5" fill="#1a1a1a" stroke="#fff" stroke-width="0.4" textLength="151.06" lengthAdjust="spacingAndGlyphs">60512-5-2</text>
<text id="t5g" x="503.00" y="283.4" font-family='"Liberation Sans", sans-serif' font-size="32.5" fill="#1a1a1a" stroke="#fff" stroke-width="0.4" textLength="224.39" lengthAdjust="spacingAndGlyphs">Reduktionsfaktor</text>
<text id="t5h" x="733.50" y="283.4" font-family='"Liberation Sans", sans-serif' font-size="32.5" fill="#1a1a1a" stroke="#fff" stroke-width="0.4" textLength="48.21" lengthAdjust="spacingAndGlyphs">0,8</text>
<text id="sya" x="41.50" y="330.8" font-family='"Liberation Sans", sans-serif' font-size="27" fill="#1a1a1a" stroke="#fff" stroke-width="0.35" textLength="61.38" lengthAdjust="spacingAndGlyphs">Strom</text>
<text id="syb" x="111.00" y="330.8" font-family='"Liberation Sans", sans-serif' font-size="27" fill="#1a1a1a" stroke="#fff" stroke-width="0.35" textLength="18.47" lengthAdjust="spacingAndGlyphs">in</text>
<text id="syc" x="135.50" y="330.8" font-family='"Liberation Sans", sans-serif' font-size="27" fill="#1a1a1a" stroke="#fff" stroke-width="0.35" textLength="19.08" lengthAdjust="spacingAndGlyphs">A</text>
<text id="sxa" x="447.50" y="887" font-family='"Liberation Sans", sans-serif' font-size="26.5" fill="#1a1a1a" stroke="#fff" stroke-width="0.35" textLength="248.18" lengthAdjust="spacingAndGlyphs">Umgebungstemperatur</text>
<text id="sxb" x="703.00" y="887" font-family='"Liberation Sans", sans-serif' font-size="26.5" fill="#1a1a1a" stroke="#fff" stroke-width="0.35" textLength="17.34" lengthAdjust="spacingAndGlyphs">in</text>
<text id="sd" x="731.00" y="887" font-family='"Liberation Sans", sans-serif' font-size="26.5" fill="#1a1a1a" stroke="#fff" stroke-width="0.35" textLength="10.14" lengthAdjust="spacingAndGlyphs">°</text>
<text id="sc" x="745.00" y="887" font-family='"Liberation Sans", sans-serif' font-size="26.5" fill="#1a1a1a" stroke="#fff" stroke-width="0.35" textLength="18.27" lengthAdjust="spacingAndGlyphs">C</text>
<text id="lga" x="77.00" y="960.5" font-family='"Liberation Sans", sans-serif' font-size="25.5" fill="#1a1a1a" stroke="#fff" stroke-width="0.35" textLength="28.18" lengthAdjust="spacingAndGlyphs"><tspan fill="#d2403f">2-,</tspan></text>
<text id="lgb" x="111.00" y="960.5" font-family='"Liberation Sans", sans-serif' font-size="25.5" fill="#1a1a1a" stroke="#fff" stroke-width="0.35" textLength="28.17" lengthAdjust="spacingAndGlyphs"><tspan fill="#7cc2c4">4-,</tspan></text>
<text id="lgc" x="146.50" y="960.5" font-family='"Liberation Sans", sans-serif' font-size="25.5" fill="#1a1a1a" stroke="#fff" stroke-width="0.35" textLength="26.33" lengthAdjust="spacingAndGlyphs"><tspan fill="#7ab55c">6-,</tspan></text>
<text id="lgd" x="183.50" y="960.5" font-family='"Liberation Sans", sans-serif' font-size="25.5" fill="#1a1a1a" stroke="#fff" stroke-width="0.35" textLength="42.43" lengthAdjust="spacingAndGlyphs"><tspan fill="#2b2a6b">12-,</tspan></text>
<text id="lge" x="232.50" y="960.5" font-family='"Liberation Sans", sans-serif' font-size="25.5" fill="#1a1a1a" stroke="#fff" stroke-width="0.35" textLength="37.53" lengthAdjust="spacingAndGlyphs"><tspan fill="#237a52">24-</tspan></text>
<text id="lgf" x="269.50" y="960.5" font-family='"Liberation Sans", sans-serif' font-size="25.5" fill="#1a1a1a" stroke="#fff" stroke-width="0.35" textLength="55.64" lengthAdjust="spacingAndGlyphs">polig</text>
<text id="lg2" x="521.50" y="958" font-family='"Liberation Sans", sans-serif' font-size="25.5" fill="#1a1a1a" stroke="#fff" stroke-width="0.35" textLength="245.93" lengthAdjust="spacingAndGlyphs">Leiterbemessungsstrom</text>
<text id="y45" x="46.00" y="366.8" font-family='"Liberation Sans", sans-serif' font-size="30.5" fill="#111" textLength="26.74" lengthAdjust="spacingAndGlyphs">45</text>
<text id="y40" x="46.00" y="415.6" font-family='"Liberation Sans", sans-serif' font-size="30.5" fill="#111" textLength="26.74" lengthAdjust="spacingAndGlyphs">40</text>
<text id="y35" x="46.00" y="464" font-family='"Liberation Sans", sans-serif' font-size="30.5" fill="#111" textLength="27.57" lengthAdjust="spacingAndGlyphs">35</text>
<text id="y30" x="46.00" y="513" font-family='"Liberation Sans", sans-serif' font-size="30.5" fill="#111" textLength="27.57" lengthAdjust="spacingAndGlyphs">30</text>
<text id="y25" x="46.00" y="562" font-family='"Liberation Sans", sans-serif' font-size="30.5" fill="#111" textLength="27.57" lengthAdjust="spacingAndGlyphs">25</text>
<text id="y20" x="46.00" y="610" font-family='"Liberation Sans", sans-serif' font-size="30.5" fill="#111" textLength="27.57" lengthAdjust="spacingAndGlyphs">20</text>
<text id="y15" x="46.00" y="659.5" font-family='"Liberation Sans", sans-serif' font-size="30.5" fill="#111" textLength="27.41" lengthAdjust="spacingAndGlyphs">15</text>
<text id="y10" x="47.00" y="709.4" font-family='"Liberation Sans", sans-serif' font-size="30.5" fill="#111" textLength="25.41" lengthAdjust="spacingAndGlyphs">10</text>
<text id="y5" x="55.50" y="757.6" font-family='"Liberation Sans", sans-serif' font-size="30.5" fill="#111" textLength="13.22" lengthAdjust="spacingAndGlyphs">5</text>
<text id="y0" x="61.50" y="816.4" font-family='"Liberation Sans", sans-serif' font-size="30.5" fill="#111" textLength="10.65" lengthAdjust="spacingAndGlyphs">0</text>
<text id="x10" x="141.50" y="828.6" font-family='"Liberation Sans", sans-serif' font-size="30.5" fill="#111" textLength="25.26" lengthAdjust="spacingAndGlyphs">10</text>
<text id="x20" x="218.50" y="828.6" font-family='"Liberation Sans", sans-serif' font-size="30.5" fill="#111" textLength="25.09" lengthAdjust="spacingAndGlyphs">20</text>
<text id="x30" x="294.00" y="828.6" font-family='"Liberation Sans", sans-serif' font-size="30.5" fill="#111" textLength="26.56" lengthAdjust="spacingAndGlyphs">30</text>
<text id="x40" x="372.00" y="828.6" font-family='"Liberation Sans", sans-serif' font-size="30.5" fill="#111" textLength="26.74" lengthAdjust="spacingAndGlyphs">40</text>
<text id="x50" x="449.00" y="828.6" font-family='"Liberation Sans", sans-serif' font-size="30.5" fill="#111" textLength="26.53" lengthAdjust="spacingAndGlyphs">50</text>
<text id="x60" x="525.00" y="828.6" font-family='"Liberation Sans", sans-serif' font-size="30.5" fill="#111" textLength="26.51" lengthAdjust="spacingAndGlyphs">60</text>
<text id="x70" x="602.50" y="828.6" font-family='"Liberation Sans", sans-serif' font-size="30.5" fill="#111" textLength="26.95" lengthAdjust="spacingAndGlyphs">70</text>
<text id="x80" x="680.50" y="828.6" font-family='"Liberation Sans", sans-serif' font-size="30.5" fill="#111" textLength="27.99" lengthAdjust="spacingAndGlyphs">80</text>
<text id="x85" x="720.50" y="828.6" font-family='"Liberation Sans", sans-serif' font-size="30.5" fill="#111" textLength="26.12" lengthAdjust="spacingAndGlyphs">85</text>
<g stroke="#1a1a1a" stroke-width="2.1" stroke-linecap="round"><line x1="327.2" y1="221.6" x2="314.4" y2="249.9"/><line x1="487.7" y1="259.8" x2="475.1" y2="288.1"/></g>
<g stroke="#1a1a1a" stroke-width="1.9" stroke-linecap="round"><line x1="694.6" y1="244.2" x2="692.5" y2="250.2"/><line x1="700.1" y1="244.2" x2="698.0" y2="250.2"/><line x1="718.4" y1="222.4" x2="716.2" y2="228.4"/><line x1="723.7" y1="222.2" x2="721.6" y2="228.2"/></g>
<line x1="453" y1="951.6" x2="512" y2="951.6" stroke="#eba23a" stroke-width="4.5"/>
</svg></body></html>
